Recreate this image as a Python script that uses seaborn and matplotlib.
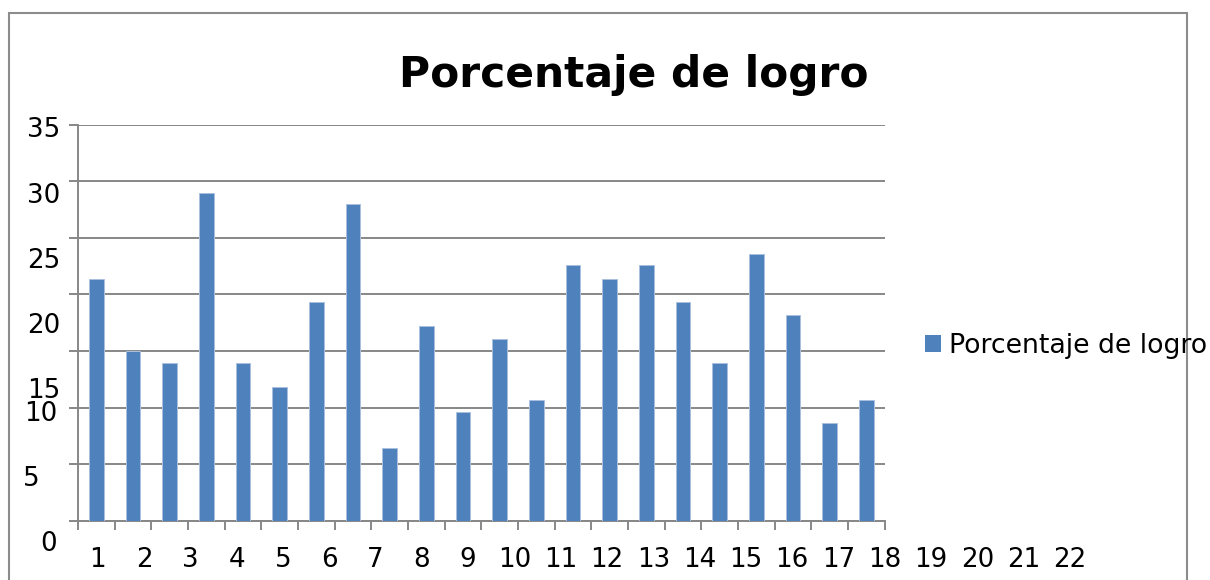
import matplotlib
matplotlib.use("Agg")
import matplotlib.pyplot as plt
import seaborn as sns
import pandas as pd
from matplotlib.patches import Patch, Rectangle

# ---- data ----
categories = [str(i) for i in range(1, 23)]
values = [21.4, 15.0, 13.9, 29.0, 13.9, 11.8, 19.3, 28.0, 6.4, 17.2, 9.6,
          16.1, 10.7, 22.6, 21.4, 22.6, 19.3, 13.9, 23.6, 18.2, 8.6, 10.7]
y_tick_values = [0, 5, 10, 15, 20, 25, 30, 35]
x_tick_labels = [str(i) for i in range(1, 23)]
series_name = "Porcentaje de logro"
title = "Porcentaje de logro"

# ---- styling / layout (pixels) ----
W, H = 1210, 580
BAR_COLOR = "#4F81BD"
GRID_COLOR = "#878787"
FS = 18.8
# y label text placement (left x, baseline y) in px
ylab_pos = [(40, 551), (23.3, 485.7), (24, 420.7), (27.3, 397.7),
            (27.3, 333.3), (27.3, 268.3), (27.3, 203.3), (27.3, 137.3)]
xlab_first, xlab_step, xlab_base = 97.7, 46.3, 567.3

sns.set_theme(style="white")
plt.rcParams["font.family"] = ["DejaVu Sans"]
plt.rcParams["text.color"] = "black"

fig = plt.figure(figsize=(W / 100, H / 100), dpi=100)
ax = fig.add_axes([78 / W, 1 - 520.7 / H, (884.7 - 78) / W, (520.7 - 124.7) / H])

df = pd.DataFrame({"cat": categories, "val": values})
sns.barplot(data=df, x="cat", y="val", ax=ax, color=BAR_COLOR, width=0.4,
            saturation=1, edgecolor="#A9C1DF", linewidth=0.7, zorder=3)

ax.set_ylim(0, 35)
ax.set_xlim(-0.5, len(categories) - 0.5)
ax.set_yticks(y_tick_values)
ax.set_yticklabels([])
ax.set_xticks([i - 0.5 for i in range(len(categories) + 1)])
ax.set_xticklabels([])
ax.set_xlabel("")
ax.set_ylabel("")
ax.grid(axis="y", color=GRID_COLOR, linewidth=1.4, zorder=0)
ax.set_axisbelow(True)
for s in ["top", "right"]:
    ax.spines[s].set_visible(False)
for s in ["left", "bottom"]:
    ax.spines[s].set_color(GRID_COLOR)
    ax.spines[s].set_linewidth(1.4)
ax.tick_params(axis="both", which="both", direction="out", length=6.3,
               width=1.4, color=GRID_COLOR, left=True, bottom=True)

# y tick labels (misplaced as in the original)
for v, (px, py) in zip(y_tick_values, ylab_pos):
    fig.text(px / W, 1 - py / H, str(v), fontsize=FS, ha="left", va="baseline",
             color="black")
# x tick labels
for i, lab in enumerate(x_tick_labels):
    fig.text((xlab_first + i * xlab_step) / W, 1 - xlab_base / H, lab,
             fontsize=FS, ha="center", va="baseline", color="black")

# title
fig.text(633.7 / W, 1 - 87.3 / H, title, fontsize=30.5, fontweight="bold",
         ha="center", va="baseline", color="black")

# legend
leg = fig.legend(handles=[Patch(facecolor=BAR_COLOR, edgecolor="none", label=series_name)],
                 loc="center left", bbox_to_anchor=(925 / W, 1 - 346 / H),
                 frameon=False, fontsize=19.3, handlelength=0.58, handleheight=0.58,
                 handletextpad=0.3, borderpad=0, borderaxespad=0)
for t in leg.get_texts():
    t.set_color("black")

# outer chart border
fig.patches.append(Rectangle((8.7 / W, -0.05), (1186.7 - 8.7) / W, 1.05 - 12.7 / H,
                             transform=fig.transFigure, fill=False,
                             edgecolor="#8C8C8C", linewidth=1.5))

fig.savefig("out.png", dpi=100)
